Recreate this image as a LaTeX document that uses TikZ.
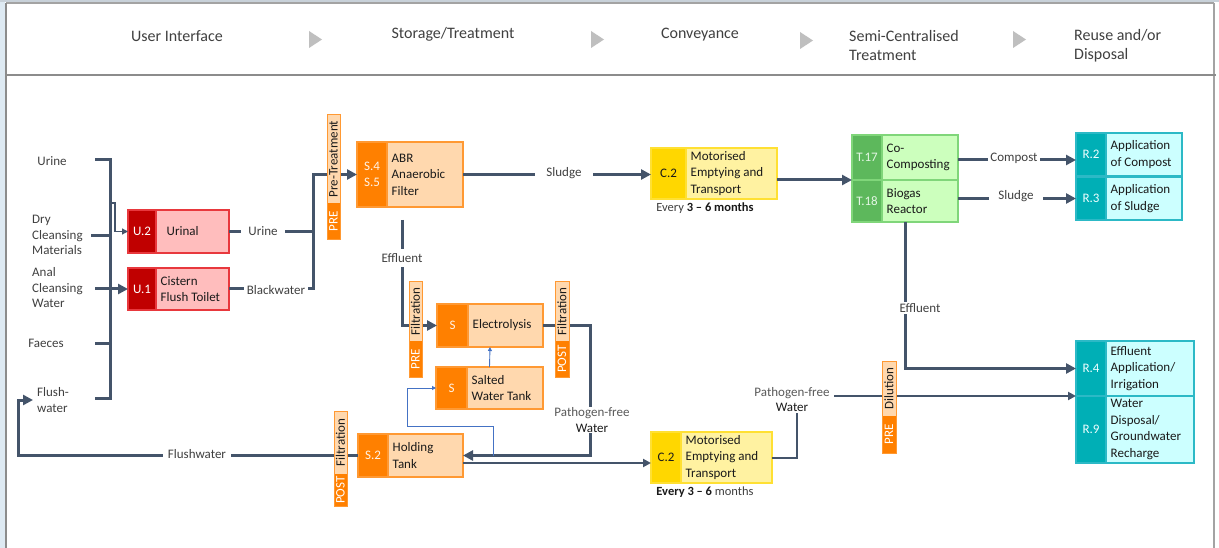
\documentclass[tikz,border=0pt]{standalone}
\usepackage{fontspec}
\setmainfont{Carlito}
\usetikzlibrary{arrows.meta}
\definecolor{connc}{HTML}{44546A}
\definecolor{bluec}{HTML}{4472C4}
\definecolor{txtc}{HTML}{404040}
\definecolor{lightt}{HTML}{595959}
\definecolor{boxtext}{HTML}{1A1A1A}
\definecolor{headtri}{HTML}{BFBFBF}
\definecolor{framebg}{HTML}{DEEAF3}
\definecolor{frametop}{HTML}{C8D1D9}
\definecolor{framec}{HTML}{8C8C8C}
\definecolor{Udark}{HTML}{C00000}
\definecolor{Ulight}{HTML}{FFBDBD}
\definecolor{Uborder}{HTML}{E8383D}
\definecolor{Ucode}{HTML}{FFFFFF}
\definecolor{Sdark}{HTML}{FF8000}
\definecolor{Slight}{HTML}{FFD8AE}
\definecolor{Sborder}{HTML}{FF9933}
\definecolor{Scode}{HTML}{FFF4E8}
\definecolor{Cdark}{HTML}{FFD700}
\definecolor{Clight}{HTML}{FFF2A1}
\definecolor{Cborder}{HTML}{FFE033}
\definecolor{Ccode}{HTML}{1A1A1A}
\definecolor{Tdark}{HTML}{5DB85C}
\definecolor{Tlight}{HTML}{CCFFBD}
\definecolor{Tborder}{HTML}{80D67A}
\definecolor{Tcode}{HTML}{E4F6E4}
\definecolor{Rdark}{HTML}{00AFB6}
\definecolor{Rlight}{HTML}{CCFFFF}
\definecolor{Rborder}{HTML}{2CB9C6}
\definecolor{Rcode}{HTML}{EFFFFF}
\newcommand\bxfont{\fontsize{13}{16.5}\selectfont}
\newcommand\hdfont{\fontsize{16}{19.5}\selectfont}
\newcommand\lbfont{\fontsize{13}{15.5}\selectfont}
\newcommand\evfont{\fontsize{12.5}{15}\selectfont}
\tikzset{
  conn/.style={draw=connc, line width=3pt},
  thinconn/.style={draw=connc, line width=2pt},
  hairconn/.style={draw=connc, line width=1.2pt},
  blueconn/.style={draw=bluec, line width=0.9pt},
  bigtip/.style={-{Triangle[length=10pt,width=10pt]}},
  midtip/.style={-{Triangle[length=8pt,width=8pt]}},
  smalltip/.style={-{Triangle[length=6pt,width=6pt]}},
  tinytip/.style={-{Triangle[length=4pt,width=4pt]}},
  lbl/.style={font=\lbfont, text=txtc, fill=white, inner ysep=1pt, align=center},
  inlbl/.style={font=\lbfont, text=txtc, align=left, inner sep=0pt},
  hdr/.style={font=\hdfont, text=txtc, align=left, inner sep=0pt},
}
% name, family, x1, y1, xsplit, x2, y2, code, text
\newcommand\pbox[9]{%
  \fill[#2dark] (#3,#4) rectangle (#6,#7);
  \fill[#2light] (#5,#4) rectangle (#6,#7);
  \draw[#2border, line width=1.2pt] (#5,#4) rectangle (#6,#7);
  \draw[#2border, line width=1.2pt] (#3,#4) rectangle (#6,#7);
  \node[inner sep=0pt, outer sep=0pt, minimum width={#6-#3}, minimum height={#7-#4}] (#1) at ({(#3+#6)/2},{(#4+#7)/2}) {};
  \node[font=\bxfont, text=#2code, align=center, inner sep=0pt] (#1c) at ({(#3+#5)/2},{(#4+#7)/2}) {#8};
  \node[font=\bxfont, text=boxtext, align=left, anchor=west, inner sep=0pt] (#1t) at ({#5+4.5},{(#4+#7)/2}) {#9};
}
% name, x1, y1, ysplit, x2, y2, upper, lower
\newcommand\tagbox[8]{%
  \fill[Slight] (#2,#3) rectangle (#5,#4);
  \fill[Sdark] (#2,#4) rectangle (#5,#6);
  \draw[Sborder, line width=1pt] (#2,#3) rectangle (#5,#6);
  \node[rotate=90, font=\bxfont, inner sep=0pt, text=boxtext] (#1u) at ({(#2+#5)/2},{(#3+#4)/2}) {#7};
  \node[rotate=90, font=\bxfont, inner sep=0pt, text=white] (#1l) at ({(#2+#5)/2},{(#4+#6)/2}) {#8};
}
\begin{document}
\begin{tikzpicture}[x=1pt,y=-1pt]
\useasboundingbox (0,0) rectangle (1219,548);
\fill[white] (0,0) rectangle (1219,548);
% frame
\fill[framebg] (0,0) rectangle (5,548);
\fill[frametop] (0,0) rectangle (1219,2.5);
\draw[framec!80, line width=1.5pt] (6,3) -- (1214,3);
\draw[framec, line width=1.5pt] (6,3) -- (6,548);
\draw[framec!80, line width=1.5pt] (1214,3) -- (1214,548);
\draw[framec, line width=1.5pt] (6,75) -- (1216,75);
% header
\node[hdr] (h1) at (177,36) {User Interface};
\node[hdr] (h2) at (453,34) {Storage/Treatment};
\node[hdr] (h3) at (700,35) {Conveyance};
\node[hdr, anchor=west] (h4) at (849,45.5) {Semi-Centralised\\Treatment};
\node[hdr, anchor=west] (h5) at (1074,45.5) {Reuse and/or\\Disposal};
\fill[headtri] (309,31) -- (322,39.5) -- (309,48) -- cycle;
\fill[headtri] (591,31) -- (604,39.5) -- (591,48) -- cycle;
\fill[headtri] (800,32) -- (813,40.5) -- (800,49) -- cycle;
\fill[headtri] (1013,31) -- (1026,39.5) -- (1013,48) -- cycle;
% input labels
\node[inlbl] (iurine) at (52,161) {Urine};
\node[inlbl, anchor=west] (idry) at (32,235) {Dry\\Cleansing\\Materials};
\node[inlbl, anchor=west] (ianal) at (32,288) {Anal\\Cleansing\\Water};
\node[inlbl] (ifaeces) at (46,343) {Faeces};
\node[inlbl, anchor=west, align=left] (iflush) at (37,400) {Flush-\\water};
\coordinate (bu) at (95,160);
\coordinate (bd) at (91,236);
\coordinate (ba) at (95,289);
\coordinate (bf) at (95,343);
\coordinate (bw) at (95,398);
\coordinate (bt) at (110,203);
\coordinate (fw) at (33,400);
\coordinate (ae) at (402,220);
\coordinate (bj) at (493,455.5);
% process boxes
\pbox{u2}{U}{128}{210}{156}{229}{253}{U.2}{\hspace{6pt}Urinal}
\pbox{u1}{U}{128}{268}{156}{229}{310}{U.1}{Cistern\\Flush Toilet}
\pbox{abr}{S}{357}{142}{387}{463}{207}{S.4\\S.5}{ABR\\Anaerobic\\Filter}
\pbox{elec}{S}{437}{304}{468}{543}{347}{S}{Electrolysis}
\pbox{salt}{S}{436}{367}{467}{543}{409}{S}{Salted\\Water Tank}
\pbox{hold}{S}{358}{434}{388}{463}{477}{S.2}{Holding\\Tank}
\pbox{c2a}{C}{651}{148}{686}{777}{199}{C.2}{Motorised\\Emptying and\\Transport}
\pbox{c2b}{C}{651}{432}{681}{772}{483}{C.2}{Motorised\\Emptying and\\Transport}
\pbox{t17}{T}{852}{135}{882}{958}{180}{T.17}{Co-\\Composting}
\pbox{t18}{T}{852}{180}{882}{958}{222}{T.18}{Biogas\\Reactor}
\pbox{r2}{R}{1076}{133}{1106}{1182}{176}{R.2}{Application\\of Compost}
\pbox{r3}{R}{1076}{177}{1106}{1182}{220}{R.3}{Application\\of Sludge}
\pbox{r4}{R}{1076}{341}{1106}{1194}{396}{R.4}{Effluent\\Application/\\Irrigation}
\pbox{r9}{R}{1076}{396}{1106}{1194}{463}{R.9}{Water\\Disposal/\\Groundwater\\Recharge}
\node[font=\evfont, text=txtc, inner sep=0pt] (ev1) at (705,208) {Every \textcolor{boxtext}{\textbf{3 – 6 months}}};
\node[font=\evfont, text=txtc, inner sep=0pt] (ev2) at (705,492) {\textcolor{boxtext}{\textbf{Every 3 – 6}} months};
% connectors
\draw[conn] (bu) -- (110,160) -- (110,398) -- (bw);
\draw[conn] (bd) -- (110,236);
\draw[conn] (bf) -- (110,343);
\draw[hairconn, smalltip] (bt) -| (115,231.5) -- (u2.west);
\draw[conn, bigtip] (ba) -- (u1.west);
\draw[conn] (u2.east) -- (313,231.5);
\draw[conn, bigtip] (u1.east) -| (313,174.5) -- (abr.west);
\node[lbl, inner xsep=7pt] (lurine) at (263,231) {Urine};
\node[lbl, inner xsep=2.5pt] (lblack) at (276,290) {Blackwater};
\draw[conn, bigtip] (abr.east) -- (c2a.west |- abr.east);
\node[lbl, inner xsep=11pt] (lsludge) at (564,173) {Sludge};
\draw[conn, bigtip] (c2a.east |- t17.south west) -- (t17.south west);
\draw[conn, bigtip] (t17.east |- 0,160) -- (r2.west |- 0,160);
\node[lbl, inner xsep=2pt] (lcompost) at (1014,158.5) {Compost};
\draw[conn, bigtip] (t18.east |- 0,198.5) -- (r3.west |- 0,198.5);
\node[lbl, inner xsep=9pt] (lsludge2) at (1016,196) {Sludge};
\draw[conn, bigtip] (t18.south) |- (r4.west);
\node[lbl, inner xsep=2pt] (leff2) at (920,308) {Effluent};
\draw[conn, bigtip] (ae) |- (elec.west);
\node[lbl, inner xsep=2pt, inner ysep=4pt] (leff1) at (402,258) {Effluent};
\draw[conn, bigtip] (elec.east) -| (590,455.5) -- (hold.east);
\node[lbl, inner xsep=1pt] (lpfw1) at (592,420) {\textcolor{lightt}{Pathogen-free}\\\textcolor{boxtext}{Water}};
\draw[blueconn, tinytip] (bj) -- (493,426) -| (407,388) -- (salt.west);
\draw[blueconn, tinytip] (salt.north) -- (elec.south);
\draw[conn, bigtip] (hold.west) -| (18,400) -- (fw);
\node[lbl, inner xsep=5pt] (lflush) at (197,454) {Flushwater};
\draw[thinconn, midtip] (hold.east |- 0,463) -- (c2b.west |- 0,463);
\draw[thinconn, midtip] (c2b.east) -| (797,396) -- (r9.north west);
\node[lbl, inner xsep=4pt] (lpfw2) at (792,399.5) {\textcolor{lightt}{Pathogen-free}\\\textcolor{boxtext}{Water}};
% tags
\tagbox{tpre}{327}{115}{203}{340}{240}{Pre-Treatment}{PRE}
\tagbox{tpref}{409}{282}{341}{422}{377}{Filtration}{PRE}
\tagbox{tpostf}{555}{282}{341}{569}{377}{Filtration}{POST}
\tagbox{tposth}{334}{411}{474}{347}{506}{Filtration}{POST}
\tagbox{tdil}{882}{361}{416}{896}{453}{Dilution}{PRE}
\end{tikzpicture}
\end{document}
